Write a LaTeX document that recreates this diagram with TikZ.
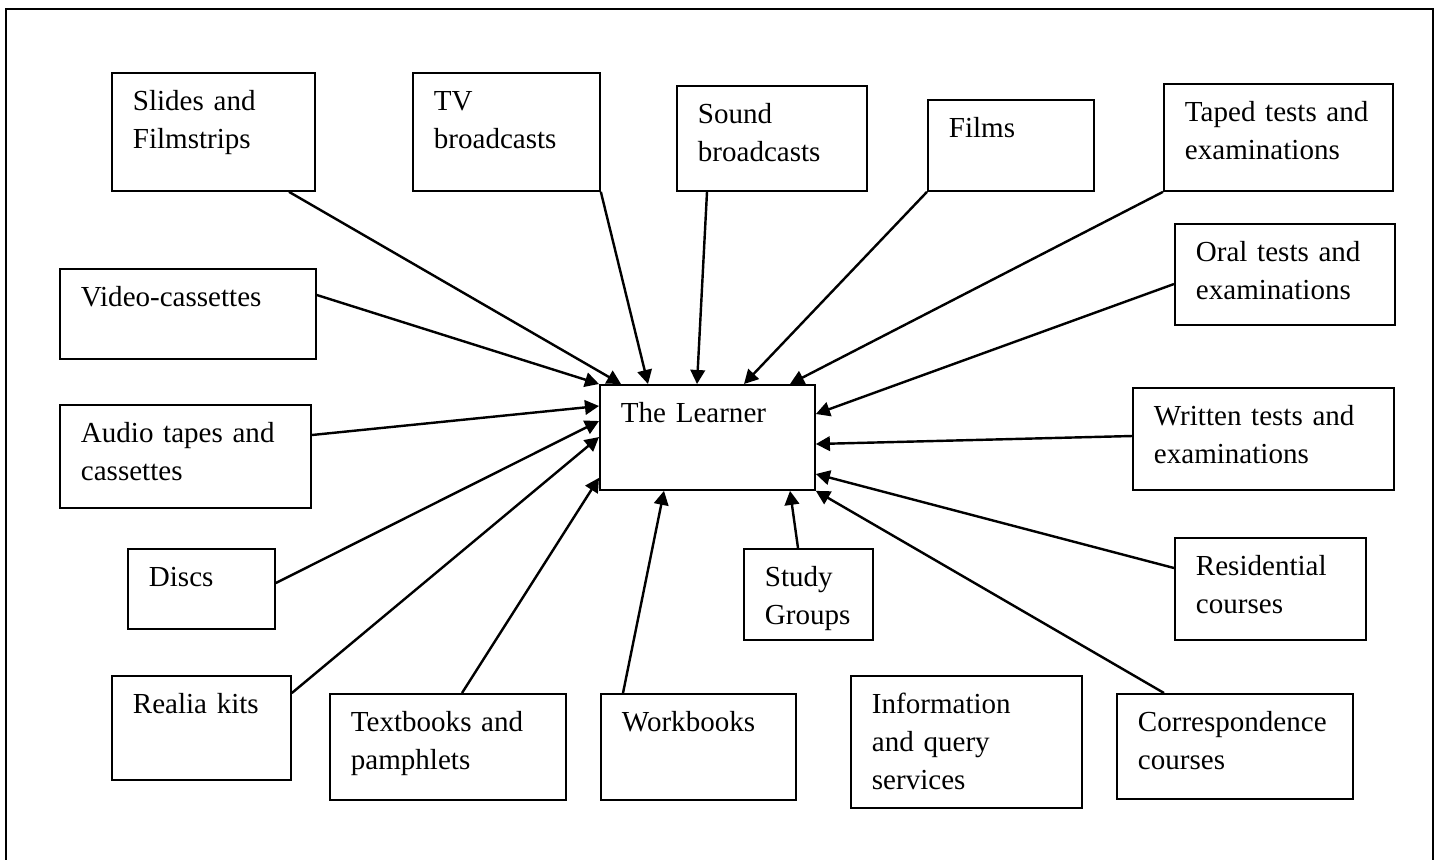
\documentclass[tikz,border=0pt]{standalone}
\usepackage{fontspec}
\setmainfont{Liberation Serif}
\usepackage{tikz}
\usetikzlibrary{arrows.meta, positioning, calc}

\begin{document}
\begin{tikzpicture}[
    x=0.4131pt, y=-0.4131pt,
    every node/.style={font=\fontsize{12pt}{15.7pt}\selectfont},
    item/.style 2 args={draw, line width=0.75pt, anchor=north west, align=left,
        inner xsep=8.68pt, inner ysep=0pt, text height=15.5pt,
        /utils/exec={\pgfmathsetlengthmacro\itemtw{(#1-42)*0.4131pt}\pgfmathsetlengthmacro\itemtd{(#2-37.5)*0.4131pt}},
        text width=\itemtw, text depth=\itemtd},
    flow/.style={-{Triangle[length=5.8pt, width=6pt]}, line width=1pt}
]
\useasboundingbox (0,0) rectangle (1441,859);
% Frame
\draw[line width=0.75pt] (6,9) rectangle (1433,880);

% The learner
\node[item={215}{105}] (learner) at (599,384) {The Learner};

% Media on top
\node[item={203}{118}] (slides) at (111,72)  {Slides and\\Filmstrips};
\node[item={187}{118}] (tv)     at (412,72)  {TV\\broadcasts};
\node[item={190}{105}] (sound)  at (676,85)  {Sound\\broadcasts};
\node[item={166}{91}]  (films)  at (927,99)  {Films};
\node[item={229}{107}] (taped)  at (1163,83) {Taped tests and\\examinations};

% Left side
\node[item={256}{90}]  (video)  at (59,268)  {Video-cassettes};
\node[item={251}{103}] (audio)  at (59,404)  {Audio tapes and\\cassettes};
\node[item={147}{80}]  (discs)  at (127,548) {Discs};
\node[item={179}{104}] (realia) at (111,675) {Realia kits};

% Right side
\node[item={220}{101}] (oral)        at (1174,223) {Oral tests and\\examinations};
\node[item={261}{102}] (written)     at (1132,387) {Written tests and\\examinations};
\node[item={191}{102}] (residential) at (1174,537) {Residential\\courses};

% Bottom
\node[item={129}{91}]  (study)     at (743,548)  {Study\\Groups};
\node[item={236}{106}] (textbooks) at (329,693)  {Textbooks and\\pamphlets};
\node[item={195}{106}] (workbooks) at (600,693)  {Workbooks};
\node[item={231}{132}] (info)      at (850,675)  {Information\\and query\\services};
\node[item={236}{105}] (corr)      at (1116,693) {Correspondence\\courses};

% Everything points at the learner
\draw[flow] ($(slides.south west)+(178,0)$) -- ($(learner.north west)+(22,0)$);
\draw[flow] (tv.south east) -- ($(learner.north west)+(49,0)$);
\draw[flow] ($(sound.south west)+(31,0)$) -- ($(learner.north west)+(98,0)$);
\draw[flow] (films.south west) -- ($(learner.north west)+(145,0)$);
\draw[flow] (taped.south west) -- ($(learner.north west)+(191,0)$);
\draw[flow] ($(oral.north west)+(0,61)$) -- ($(learner.north east)+(0,30)$);
\draw[flow] ($(video.north east)+(0,27)$) -- (learner.north west);
\draw[flow] ($(audio.north east)+(0,31)$) -- ($(learner.north west)+(0,22)$);
\draw[flow] ($(discs.north east)+(0,35)$) -- ($(learner.north west)+(0,37)$);
\draw[flow] ($(realia.north east)+(0,18)$) -- ($(learner.north west)+(0,53)$);
\draw[flow] ($(textbooks.north west)+(133,0)$) -- ($(learner.south west)+(0,-13)$);
\draw[flow] ($(workbooks.north west)+(23,0)$) -- ($(learner.south west)+(65,0)$);
\draw[flow] ($(study.north west)+(55,0)$) -- ($(learner.south west)+(191,0)$);
\draw[flow] ($(written.north west)+(0,49)$) -- ($(learner.north east)+(0,60)$);
\draw[flow] ($(residential.north west)+(0,31)$) -- ($(learner.north east)+(0,90)$);
\draw[flow] ($(corr.north west)+(48,0)$) -- (learner.south east);
\end{tikzpicture}
\end{document}
